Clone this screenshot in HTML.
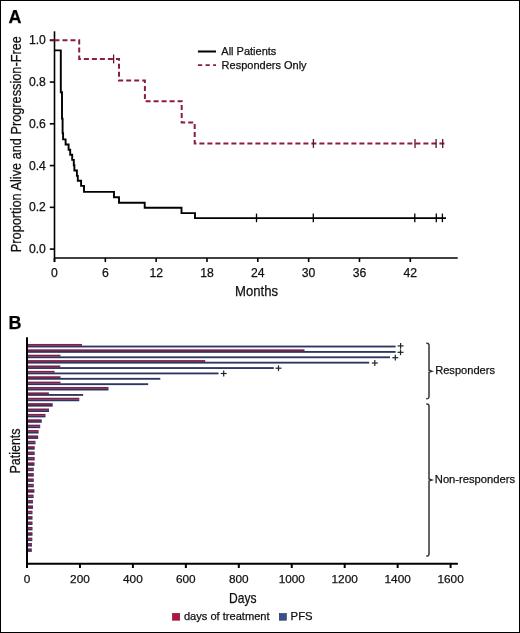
<!DOCTYPE html>
<html><head><meta charset="utf-8"><style>
html,body{margin:0;padding:0;background:#fff;}
body{width:520px;height:633px;overflow:hidden;}
svg{will-change:transform;}
svg text{font-family:"Liberation Sans", sans-serif;}
</style></head><body>
<svg width="520" height="633" viewBox="0 0 520 633" style="display:block">
<rect x="0" y="0" width="520" height="633" fill="#fff"/>
<rect x="0.5" y="0.5" width="519" height="632" fill="none" stroke="#000" stroke-width="1"/>
<text x="8.4" y="22.9" stroke="#111" stroke-width="0.25" font-weight="bold" font-size="18" fill="#000">A</text>
<g stroke="#000" stroke-width="1.6" fill="none" stroke-linecap="butt">
<line x1="54.5" y1="31.3" x2="54.5" y2="262"/>
<line x1="54.5" y1="258.0" x2="457.7" y2="258.0"/>
<line x1="49.8" y1="40.30" x2="54.5" y2="40.30"/>
<line x1="49.8" y1="82.06" x2="54.5" y2="82.06"/>
<line x1="49.8" y1="123.82" x2="54.5" y2="123.82"/>
<line x1="49.8" y1="165.58" x2="54.5" y2="165.58"/>
<line x1="49.8" y1="207.34" x2="54.5" y2="207.34"/>
<line x1="49.8" y1="249.10" x2="54.5" y2="249.10"/>
<line x1="54.50" y1="258.0" x2="54.50" y2="262"/>
<line x1="105.33" y1="258.0" x2="105.33" y2="262"/>
<line x1="156.16" y1="258.0" x2="156.16" y2="262"/>
<line x1="206.99" y1="258.0" x2="206.99" y2="262"/>
<line x1="257.81" y1="258.0" x2="257.81" y2="262"/>
<line x1="308.64" y1="258.0" x2="308.64" y2="262"/>
<line x1="359.47" y1="258.0" x2="359.47" y2="262"/>
<line x1="410.30" y1="258.0" x2="410.30" y2="262"/>
</g>
<g stroke="#111" stroke-width="0.25" font-size="12.2" fill="#111">
<text x="45.9" y="44.30" text-anchor="end">1.0</text>
<text x="45.9" y="86.06" text-anchor="end">0.8</text>
<text x="45.9" y="127.82" text-anchor="end">0.6</text>
<text x="45.9" y="169.58" text-anchor="end">0.4</text>
<text x="45.9" y="211.34" text-anchor="end">0.2</text>
<text x="45.9" y="253.10" text-anchor="end">0.0</text>
<text x="54.50" y="276.9" text-anchor="middle">0</text>
<text x="105.33" y="276.9" text-anchor="middle">6</text>
<text x="156.16" y="276.9" text-anchor="middle">12</text>
<text x="206.99" y="276.9" text-anchor="middle">18</text>
<text x="257.81" y="276.9" text-anchor="middle">24</text>
<text x="308.64" y="276.9" text-anchor="middle">30</text>
<text x="359.47" y="276.9" text-anchor="middle">36</text>
<text x="410.30" y="276.9" text-anchor="middle">42</text>
</g>
<text x="256.5" y="296.4" stroke="#111" stroke-width="0.25" font-size="14.7" fill="#111" text-anchor="middle" textLength="43" lengthAdjust="spacingAndGlyphs">Months</text>
<text transform="translate(20.5,144.15) rotate(-90)" x="0" y="0" stroke="#111" stroke-width="0.25" font-size="15" fill="#111" text-anchor="middle" textLength="216" lengthAdjust="spacingAndGlyphs">Proportion Alive and Progression-Free</text>
<line x1="197.9" y1="51.5" x2="216" y2="51.5" stroke="#000" stroke-width="2"/>
<line x1="197.9" y1="65.1" x2="216" y2="65.1" stroke="#8c1d3f" stroke-width="1.6" stroke-dasharray="4.3 3.3"/>
<text x="221.3" y="55.3" stroke="#111" stroke-width="0.25" font-size="11" fill="#111">All Patients</text>
<text x="221.6" y="68.6" stroke="#111" stroke-width="0.25" font-size="11" fill="#111">Responders Only</text>
<line x1="49.8" y1="40.3" x2="54.5" y2="40.3" stroke="#5a1028" stroke-width="1.8"/>
<path d="M54.5,40.3 H79.2 V58.9 H119 V80.6 H144.9 V101.2 H181.7 V122.6 H194.7 V143.4 H446" fill="none" stroke="#8c1d3f" stroke-width="2" stroke-dasharray="5 3"/>
<g stroke="#5a1430" stroke-width="1.3">
<line x1="113.6" y1="54.5" x2="113.6" y2="63.4"/>
<line x1="313.4" y1="139.0" x2="313.4" y2="147.9"/>
<line x1="415" y1="139.0" x2="415" y2="147.9"/>
<line x1="436.1" y1="139.0" x2="436.1" y2="147.9"/>
<line x1="442.7" y1="139.0" x2="442.7" y2="147.9"/>
</g>
<path d="M54.5,50.4 H60.8 V92.2 H62 V118.6 H62.6 V133.3 H63.1 V139.4 H65.6 V144.5 H68.6 V149.8 H70.2 V154.8 H72.2 V159.9 H73.8 V165.2 H74.4 V170.5 H76.9 V175.9 H77.8 V180.8 H81.1 V185.9 H84 V191.9 H114 V197.3 H119 V202.8 H144.7 V207.7 H181.5 V213.1 H195 V218.1 H446" fill="none" stroke="#000" stroke-width="1.9" stroke-linejoin="miter"/>
<g stroke="#000" stroke-width="1.3">
<line x1="256.5" y1="213.6" x2="256.5" y2="222.2"/>
<line x1="313.3" y1="213.6" x2="313.3" y2="222.2"/>
<line x1="414.8" y1="213.6" x2="414.8" y2="222.2"/>
<line x1="436.3" y1="213.6" x2="436.3" y2="222.2"/>
<line x1="442.4" y1="213.6" x2="442.4" y2="222.2"/>
</g>
<text x="8.5" y="328.6" stroke="#111" stroke-width="0.25" font-weight="bold" font-size="18" fill="#000">B</text>
<rect x="28" y="345.60" width="367.60" height="1.85" fill="#2d3660"/>
<rect x="28" y="343.95" width="54.00" height="1.85" fill="#7f214b"/>
<rect x="28" y="350.98" width="367.60" height="1.85" fill="#2d3660"/>
<rect x="28" y="349.33" width="276.50" height="1.85" fill="#7f214b"/>
<rect x="28" y="356.36" width="362.00" height="1.85" fill="#2d3660"/>
<rect x="28" y="354.71" width="32.50" height="1.85" fill="#7f214b"/>
<rect x="28" y="361.74" width="341.20" height="1.85" fill="#2d3660"/>
<rect x="28" y="360.09" width="177.20" height="1.85" fill="#7f214b"/>
<rect x="28" y="367.12" width="245.80" height="1.85" fill="#2d3660"/>
<rect x="28" y="365.47" width="32.30" height="1.85" fill="#7f214b"/>
<rect x="28" y="372.50" width="190.50" height="1.85" fill="#2d3660"/>
<rect x="28" y="370.85" width="26.60" height="1.85" fill="#7f214b"/>
<rect x="28" y="377.88" width="132.30" height="1.85" fill="#2d3660"/>
<rect x="28" y="376.23" width="32.50" height="1.85" fill="#7f214b"/>
<rect x="28" y="383.26" width="120.20" height="1.85" fill="#2d3660"/>
<rect x="28" y="381.61" width="32.50" height="1.85" fill="#7f214b"/>
<rect x="28" y="388.64" width="80.50" height="1.85" fill="#2d3660"/>
<rect x="28" y="386.99" width="80.50" height="1.85" fill="#7f214b"/>
<rect x="28" y="394.02" width="55.10" height="1.85" fill="#2d3660"/>
<rect x="28" y="392.37" width="20.90" height="1.85" fill="#7f214b"/>
<rect x="28" y="399.40" width="51.30" height="1.85" fill="#2d3660"/>
<rect x="28" y="397.75" width="51.30" height="1.85" fill="#7f214b"/>
<rect x="28" y="404.78" width="24.70" height="1.85" fill="#2d3660"/>
<rect x="28" y="403.13" width="24.70" height="1.85" fill="#7f214b"/>
<rect x="28" y="410.16" width="21.00" height="1.85" fill="#2d3660"/>
<rect x="28" y="408.51" width="21.00" height="1.85" fill="#7f214b"/>
<rect x="28" y="415.54" width="17.50" height="1.85" fill="#2d3660"/>
<rect x="28" y="413.89" width="17.50" height="1.85" fill="#7f214b"/>
<rect x="28" y="420.92" width="13.70" height="1.85" fill="#2d3660"/>
<rect x="28" y="419.27" width="13.70" height="1.85" fill="#7f214b"/>
<rect x="28" y="426.30" width="12.20" height="1.85" fill="#2d3660"/>
<rect x="28" y="424.65" width="12.20" height="1.85" fill="#7f214b"/>
<rect x="28" y="431.68" width="10.60" height="1.85" fill="#2d3660"/>
<rect x="28" y="430.03" width="10.60" height="1.85" fill="#7f214b"/>
<rect x="28" y="437.06" width="10.20" height="1.85" fill="#2d3660"/>
<rect x="28" y="435.41" width="10.20" height="1.85" fill="#7f214b"/>
<rect x="28" y="442.44" width="7.50" height="1.85" fill="#2d3660"/>
<rect x="28" y="440.79" width="7.50" height="1.85" fill="#7f214b"/>
<rect x="28" y="447.82" width="6.70" height="1.85" fill="#2d3660"/>
<rect x="28" y="446.17" width="6.70" height="1.85" fill="#7f214b"/>
<rect x="28" y="453.20" width="6.70" height="1.85" fill="#2d3660"/>
<rect x="28" y="451.55" width="6.70" height="1.85" fill="#7f214b"/>
<rect x="28" y="458.58" width="6.70" height="1.85" fill="#2d3660"/>
<rect x="28" y="456.93" width="6.70" height="1.85" fill="#7f214b"/>
<rect x="28" y="463.96" width="6.50" height="1.85" fill="#2d3660"/>
<rect x="28" y="462.31" width="6.50" height="1.85" fill="#7f214b"/>
<rect x="28" y="469.34" width="5.80" height="1.85" fill="#2d3660"/>
<rect x="28" y="467.69" width="5.80" height="1.85" fill="#7f214b"/>
<rect x="28" y="474.72" width="5.80" height="1.85" fill="#2d3660"/>
<rect x="28" y="473.07" width="5.80" height="1.85" fill="#7f214b"/>
<rect x="28" y="480.10" width="5.80" height="1.85" fill="#2d3660"/>
<rect x="28" y="478.45" width="5.80" height="1.85" fill="#7f214b"/>
<rect x="28" y="485.48" width="5.80" height="1.85" fill="#2d3660"/>
<rect x="28" y="483.83" width="5.80" height="1.85" fill="#7f214b"/>
<rect x="28" y="490.86" width="6.40" height="1.85" fill="#2d3660"/>
<rect x="28" y="489.21" width="6.40" height="1.85" fill="#7f214b"/>
<rect x="28" y="496.24" width="5.60" height="1.85" fill="#2d3660"/>
<rect x="28" y="494.59" width="5.60" height="1.85" fill="#7f214b"/>
<rect x="28" y="501.62" width="5.00" height="1.85" fill="#2d3660"/>
<rect x="28" y="499.97" width="5.00" height="1.85" fill="#7f214b"/>
<rect x="28" y="507.00" width="5.00" height="1.85" fill="#2d3660"/>
<rect x="28" y="505.35" width="5.00" height="1.85" fill="#7f214b"/>
<rect x="28" y="512.38" width="4.50" height="1.85" fill="#2d3660"/>
<rect x="28" y="510.73" width="4.50" height="1.85" fill="#7f214b"/>
<rect x="28" y="517.76" width="4.50" height="1.85" fill="#2d3660"/>
<rect x="28" y="516.11" width="4.50" height="1.85" fill="#7f214b"/>
<rect x="28" y="523.14" width="4.50" height="1.85" fill="#2d3660"/>
<rect x="28" y="521.49" width="4.50" height="1.85" fill="#7f214b"/>
<rect x="28" y="528.52" width="4.50" height="1.85" fill="#2d3660"/>
<rect x="28" y="526.87" width="4.50" height="1.85" fill="#7f214b"/>
<rect x="28" y="533.90" width="4.50" height="1.85" fill="#2d3660"/>
<rect x="28" y="532.25" width="4.50" height="1.85" fill="#7f214b"/>
<rect x="28" y="539.28" width="4.30" height="1.85" fill="#2d3660"/>
<rect x="28" y="537.63" width="4.30" height="1.85" fill="#7f214b"/>
<rect x="28" y="544.66" width="4.00" height="1.85" fill="#2d3660"/>
<rect x="28" y="543.01" width="4.00" height="1.85" fill="#7f214b"/>
<rect x="28" y="550.04" width="3.80" height="1.85" fill="#2d3660"/>
<rect x="28" y="548.39" width="3.80" height="1.85" fill="#7f214b"/>
<g stroke="#222" stroke-width="1.2">
<line x1="397.6" y1="345.9" x2="403.6" y2="345.9"/><line x1="400.6" y1="343.0" x2="400.6" y2="348.79999999999995"/>
<line x1="397.5" y1="352.3" x2="403.5" y2="352.3"/><line x1="400.5" y1="349.40000000000003" x2="400.5" y2="355.2"/>
<line x1="392.3" y1="357.7" x2="398.3" y2="357.7"/><line x1="395.3" y1="354.8" x2="395.3" y2="360.59999999999997"/>
<line x1="371.8" y1="363.0" x2="377.8" y2="363.0"/><line x1="374.8" y1="360.1" x2="374.8" y2="365.9"/>
<line x1="275.5" y1="368.2" x2="281.5" y2="368.2"/><line x1="278.5" y1="365.3" x2="278.5" y2="371.09999999999997"/>
<line x1="220.7" y1="373.5" x2="226.7" y2="373.5"/><line x1="223.7" y1="370.6" x2="223.7" y2="376.4"/>
</g>
<g stroke="#000" stroke-width="2" fill="none">
<line x1="27.0" y1="337.2" x2="27.0" y2="568"/>
<line x1="27.0" y1="563.7" x2="457.9" y2="563.7"/>
<line x1="27.00" y1="563.7" x2="27.00" y2="568"/>
<line x1="79.95" y1="563.7" x2="79.95" y2="568"/>
<line x1="132.90" y1="563.7" x2="132.90" y2="568"/>
<line x1="185.85" y1="563.7" x2="185.85" y2="568"/>
<line x1="238.80" y1="563.7" x2="238.80" y2="568"/>
<line x1="291.75" y1="563.7" x2="291.75" y2="568"/>
<line x1="344.70" y1="563.7" x2="344.70" y2="568"/>
<line x1="397.65" y1="563.7" x2="397.65" y2="568"/>
<line x1="450.60" y1="563.7" x2="450.60" y2="568"/>
</g>
<g stroke="#111" stroke-width="0.25" font-size="11.8" fill="#111">
<text x="27.00" y="583" text-anchor="middle">0</text>
<text x="79.95" y="583" text-anchor="middle">200</text>
<text x="132.90" y="583" text-anchor="middle">400</text>
<text x="185.85" y="583" text-anchor="middle">600</text>
<text x="238.80" y="583" text-anchor="middle">800</text>
<text x="291.75" y="583" text-anchor="middle">1000</text>
<text x="344.70" y="583" text-anchor="middle">1200</text>
<text x="397.65" y="583" text-anchor="middle">1400</text>
<text x="450.60" y="583" text-anchor="middle">1600</text>
</g>
<text x="242.85" y="602.8" stroke="#111" stroke-width="0.25" font-size="15" fill="#111" text-anchor="middle" textLength="27.5" lengthAdjust="spacingAndGlyphs">Days</text>
<text transform="translate(20.4,451) rotate(-90)" x="0" y="0" stroke="#111" stroke-width="0.25" font-size="15" fill="#111" text-anchor="middle" textLength="45" lengthAdjust="spacingAndGlyphs">Patients</text>
<rect x="172.4" y="613.4" width="7.3" height="6.8" fill="#b01540" stroke="#7a1030" stroke-width="0.6"/>
<text x="183.9" y="619.8" stroke="#111" stroke-width="0.25" font-size="11.1" fill="#111">days of treatment</text>
<rect x="279.3" y="613.5" width="7" height="6.7" fill="#35508a" stroke="#1e2c50" stroke-width="0.6"/>
<text x="290.6" y="620.3" stroke="#111" stroke-width="0.25" font-size="11.3" fill="#111">PFS</text>
<path d="M426.3,343.2 Q429,342.9 429.0,345.2 V370.2 L431.8,371.2 L429.0,372.2 V396.6 Q429,398.90000000000003 426.3,398.6" fill="none" stroke="#333" stroke-width="1.5"/>
<path d="M426.3,404.0 Q429,403.7 429.0,406.0 V479.0 L431.8,480.0 L429.0,481.0 V553.9 Q429,556.1999999999999 426.3,555.9" fill="none" stroke="#333" stroke-width="1.5"/>
<text x="435.2" y="373.6" stroke="#111" stroke-width="0.25" font-size="11.1" fill="#111">Responders</text>
<text x="434.8" y="482.9" stroke="#111" stroke-width="0.25" font-size="11.2" fill="#111">Non-responders</text>
</svg>
</body></html>
